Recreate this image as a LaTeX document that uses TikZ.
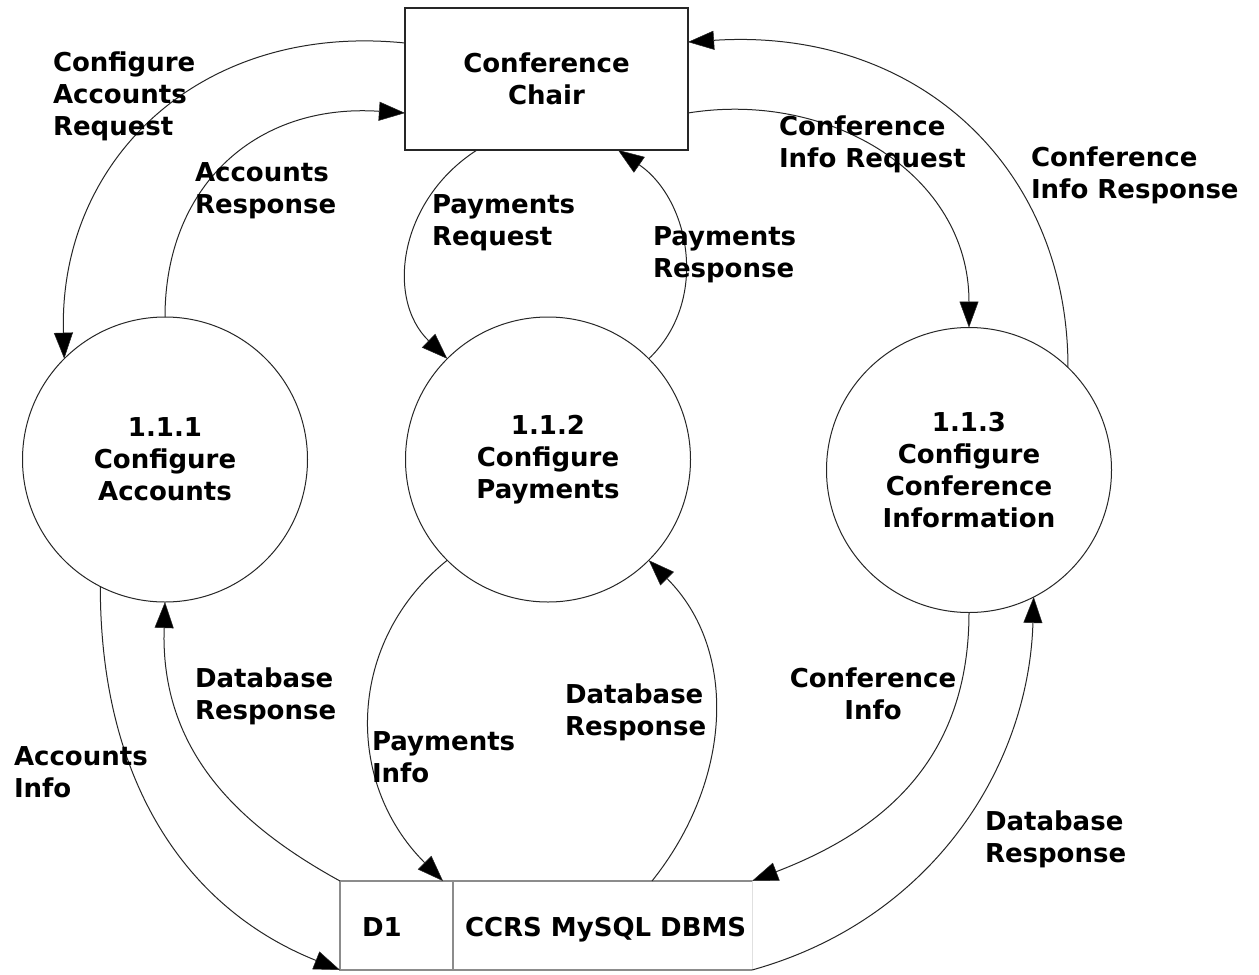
\documentclass[tikz,border=0pt]{standalone}
\usepackage{fontspec}
\setmainfont{DejaVu Sans}
\usetikzlibrary{arrows.meta}
\begin{document}
\begin{tikzpicture}[x=1pt,y=-1pt,
  every node/.style={font=\fontsize{26}{32}\selectfont\bfseries, inner sep=0pt, outer sep=0pt},
  proc/.style={draw=black!85, line width=1pt, circle, minimum size=285pt, align=center},
  ent/.style={draw=black!85, line width=1.3pt, rectangle, minimum width=283pt, minimum height=142pt, align=center},
  flow/.style={draw=black!85, line width=1pt, -{Triangle[length=26pt,width=19pt,fill=black,line width=0.5pt]}},
  lbl/.style={align=left, anchor=north west},
  storeline/.style={draw=black!45, line width=1.4pt}]
\useasboundingbox (0,0) rectangle (1259,975);
\fill[white] (0,0) rectangle (1259,975);

% nodes
\node[ent] (chair) at (546.5,79) {Conference\\Chair};
\node[proc] (p1) at (165,459.5) {1.1.1\\Configure\\Accounts};
\node[proc] (p2) at (548,459.5) {1.1.2\\Configure\\Payments};
\node[proc] (p3) at (969,470) {1.1.3\\Configure\\Conference\\Information};
\node[minimum width=412pt, minimum height=89pt] (store) at (546,925.5) {};
\draw[storeline] (store.north east) -- (store.north west) -- (store.south west) -- (store.south east);
\draw[storeline] ([xshift=113pt]store.north west) -- ([xshift=113pt]store.south west);
\draw[draw=black!12, line width=1pt] (store.north east) -- (store.south east);
\node[anchor=base west] (d1) at (362,936) {D1};
\node[anchor=base west] (dbname) at (465,936) {CCRS MySQL DBMS};

% flows
\draw[flow] ([yshift=36pt]chair.west) .. controls +(-205,-21) and +(-6,-198) .. (p1.135);
\draw[flow] (p1.north) .. controls +(0,-130) and +(-150,-10) .. ([yshift=-34pt]chair.west);
\draw[flow] ([xshift=-69.5pt]chair.south) .. controls +(-78,50) and +(-62,-60) .. (p2.135);
\draw[flow] (p2.45) .. controls +(61,-58) and +(72,50) .. ([xshift=71.5pt]chair.south);
\draw[flow] ([yshift=-34pt]chair.east) .. controls +(142,-23) and +(0,-153) .. (p3.north);
\draw[flow] (p3.46) .. controls +(0,-200) and +(230,-15) .. ([yshift=37pt]chair.east);
\draw[flow] (store.north west) .. controls +(-100,-55) and +(-5,150) .. (p1.south);
\draw[flow] (p1.-117) .. controls +(0,200) and +(-150,-60) .. (store.south west);
\draw[flow] (p2.-135) .. controls +(-100,80) and +(-100,-100) .. ([xshift=103pt]store.north west);
\draw[flow] ([xshift=106pt]store.north) .. controls +(80,-100) and +(90,90) .. (p2.-45);
\draw[flow] (p3.south) .. controls +(0,148) and +(130,-50) .. (store.north east);
\draw[flow] (store.south east) .. controls +(180,-50) and +(-5,170) .. (p3.-63);

% labels
\node[lbl] (lcar) at (53,52) {Configure\\Accounts\\Request};
\node[lbl] (lar) at (195,163) {Accounts\\Response};
\node[lbl] (lpreq) at (432,195) {Payments\\Request};
\node[lbl] (lpres) at (653,227) {Payments\\Response};
\node[lbl] (lcireq) at (779,116) {Conference\\Info Request};
\node[lbl] (lcires) at (1031,147) {Conference\\Info Response};
\node[lbl] (ldb1) at (195,668) {Database\\Response};
\node[lbl] (lai) at (14,747) {Accounts\\Info};
\node[lbl] (lpi) at (372,732) {Payments\\Info};
\node[lbl] (ldb2) at (565,684) {Database\\Response};
\node[align=center, anchor=north] (lci) at (873,668) {Conference\\Info};
\node[lbl] (ldb3) at (985,811) {Database\\Response};
\end{tikzpicture}
\end{document}
